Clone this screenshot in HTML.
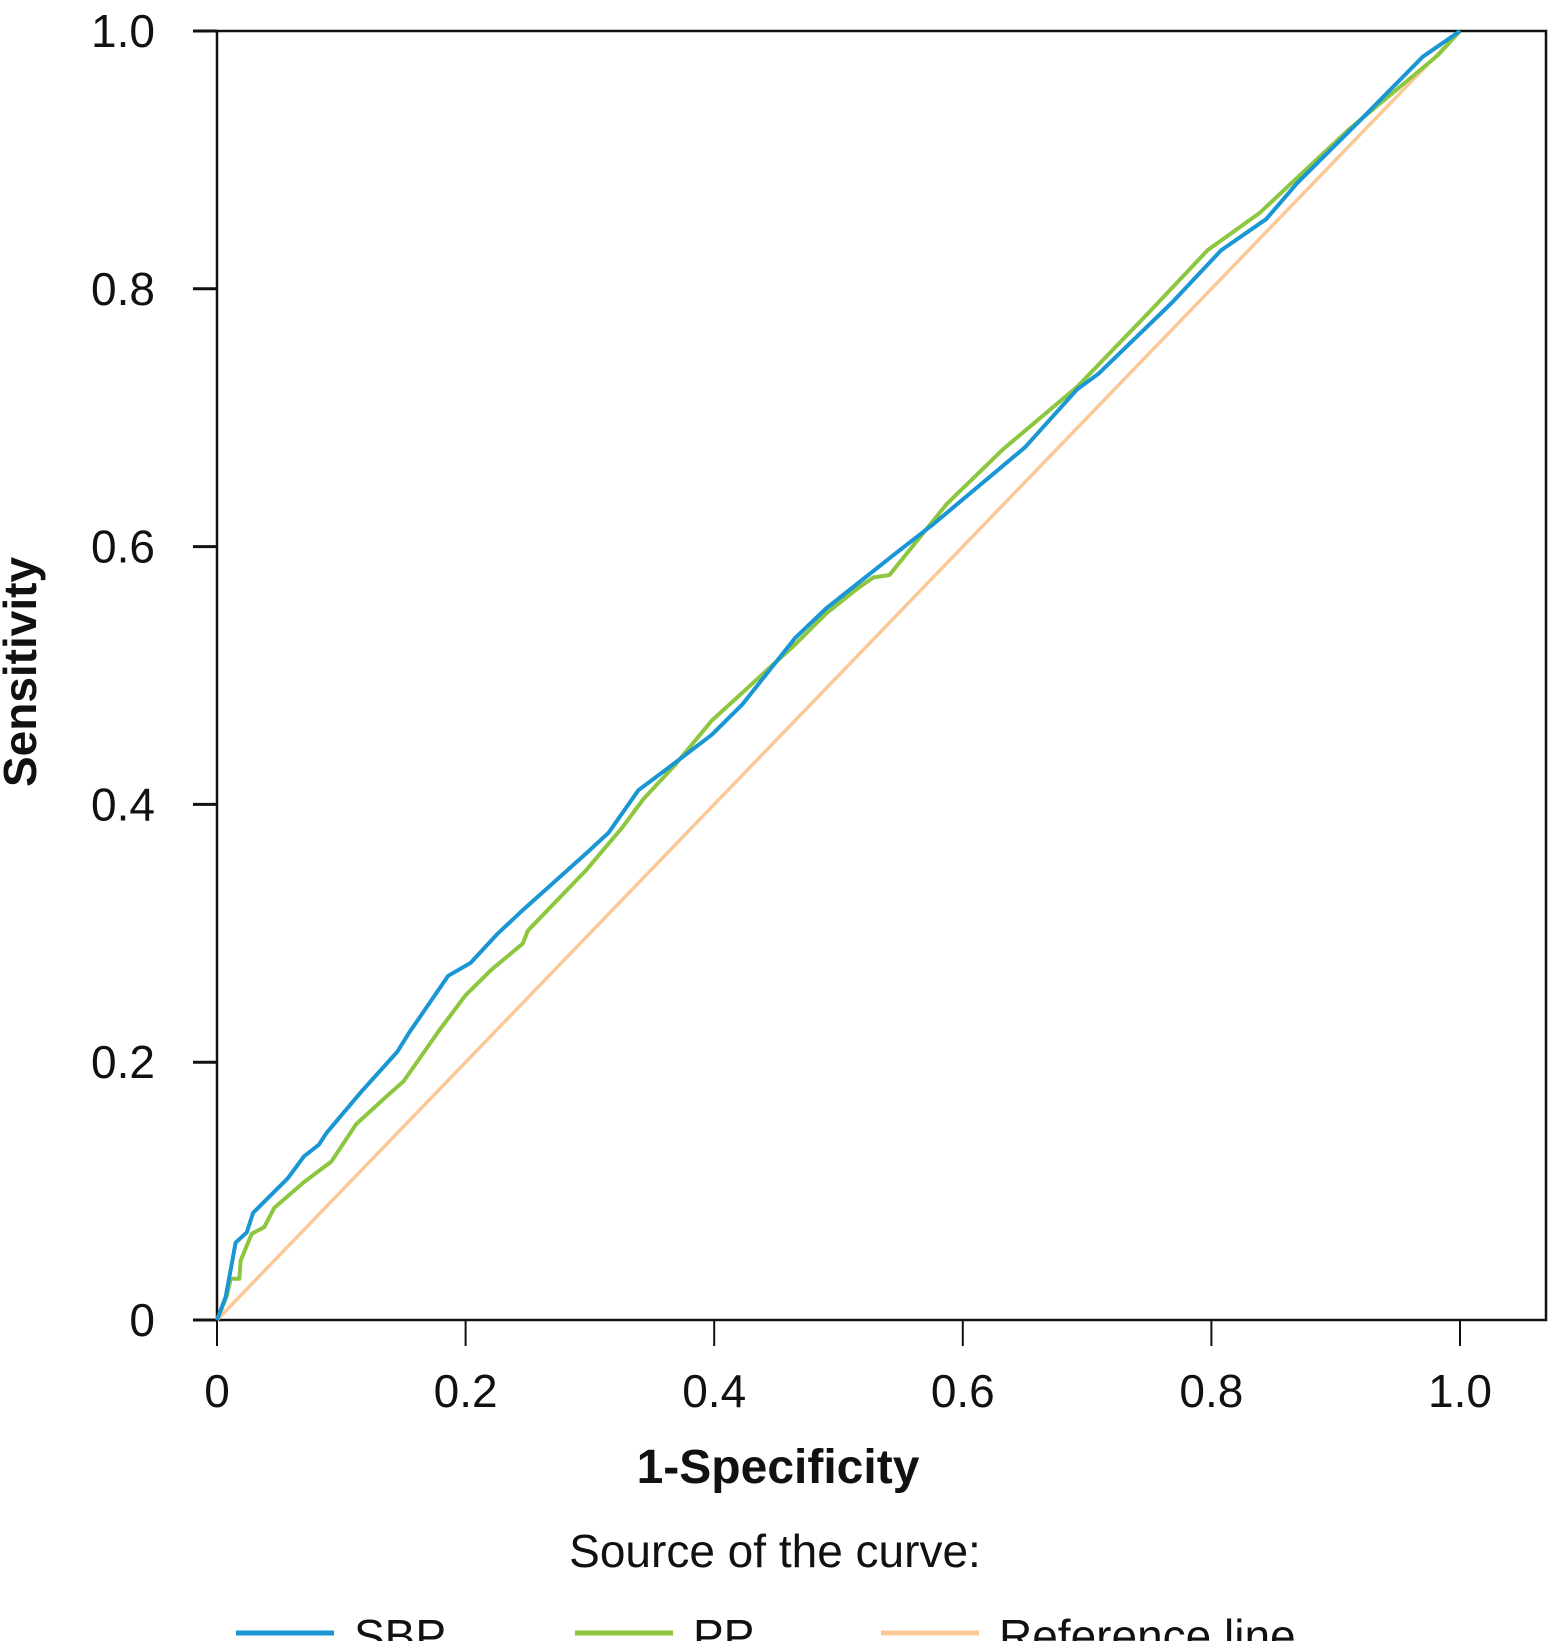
<!DOCTYPE html>
<html><head><meta charset="utf-8"><style>
html,body{margin:0;padding:0;background:#fff;}
svg text{font-family:"Liberation Sans Narrow","Liberation Sans",sans-serif;fill:#111;}
</style></head><body>
<svg id="chart" width="1550" height="1641" viewBox="0 0 1550 1641" xmlns="http://www.w3.org/2000/svg">
<g id="plot"></g>
</svg>
<script>
const ticks = [0, 0.2, 0.4, 0.6, 0.8, 1.0];
const tickLabels = ["0", "0.2", "0.4", "0.6", "0.8", "1.0"];
const sbpX = [0,0.007,0.015,0.024,0.029,0.057,0.070,0.082,0.088,0.116,0.145,0.154,0.186,0.204,0.225,0.246,0.297,0.315,0.339,0.364,0.398,0.423,0.465,0.490,0.541,0.577,0.650,0.692,0.709,0.768,0.808,0.844,0.869,0.920,0.970,1];
const sbpY = [0,0.018,0.060,0.068,0.083,0.110,0.127,0.136,0.145,0.177,0.208,0.222,0.267,0.277,0.299,0.318,0.362,0.378,0.411,0.429,0.454,0.478,0.529,0.552,0.591,0.618,0.677,0.722,0.734,0.789,0.830,0.854,0.882,0.931,0.980,1];
const ppX = [0,0.008,0.011,0.018,0.019,0.028,0.038,0.046,0.070,0.092,0.112,0.137,0.150,0.179,0.200,0.221,0.246,0.250,0.297,0.326,0.343,0.368,0.398,0.423,0.465,0.490,0.516,0.528,0.541,0.587,0.633,0.692,0.751,0.797,0.839,0.911,0.982,1];
const ppY = [0,0.019,0.032,0.032,0.046,0.067,0.072,0.087,0.107,0.123,0.152,0.174,0.185,0.225,0.252,0.272,0.292,0.302,0.349,0.382,0.404,0.430,0.465,0.487,0.524,0.548,0.568,0.576,0.578,0.633,0.676,0.724,0.783,0.830,0.859,0.924,0.981,1];
const refX = [0, 1];
const refY = [0, 1];

const NS = "http://www.w3.org/2000/svg";
const X0 = 217, X1 = 1460, Y0 = 1320, Y1 = 31, RIGHT = 1546;
function sx(v){ return X0 + v * (X1 - X0); }
function sy(v){ return Y0 - v * (Y0 - Y1); }
const g = document.getElementById('plot');
function mk(tag, attrs, parent){
  const e = document.createElementNS(NS, tag);
  for (const k in attrs) e.setAttribute(k, attrs[k]);
  (parent || g).appendChild(e);
  return e;
}
const frame = mk('rect', {x: X0, y: Y1, width: RIGHT - X0, height: Y0 - Y1, fill: 'none', stroke: '#111', 'stroke-width': 2.5});


ticks.forEach((t, i) => {
  const yt = mk('line', {x1: 193, x2: X0, y1: sy(t), y2: sy(t), stroke: '#111', 'stroke-width': 3});
  
  
  const yl = mk('text', {x: 155, y: sy(t) + 16, 'text-anchor': 'end', 'font-size': 46});
  yl.textContent = tickLabels[i];
  
  
  const xt = mk('line', {x1: sx(t), x2: sx(t), y1: Y0, y2: 1346, stroke: '#111', 'stroke-width': 2});
  
  
  const xl = mk('text', {x: sx(t), y: 1407, 'text-anchor': 'middle', 'font-size': 46});
  xl.textContent = tickLabels[i];
  
  
});
function series(xs, ys, color, w, name){
  const d = xs.map((x, i) => (i ? 'L' : 'M') + sx(x).toFixed(1) + ',' + sy(ys[i]).toFixed(1)).join(' ');
  const p = mk('path', {d: d, fill: 'none', stroke: color, 'stroke-width': w, 'stroke-linejoin': 'round'});
  
  
}
series(refX, refY, '#fbc995', 3.5, 'reference-line');
series(ppX, ppY, '#8dc63f', 4, 'pp-curve');
series(sbpX, sbpY, '#1a96d4', 4, 'sbp-curve');
</script>
<svg width="1550" height="1641" style="position:absolute;left:0;top:0" xmlns="http://www.w3.org/2000/svg">
<text x="24" y="672" transform="rotate(-90 24 672)" text-anchor="middle" font-size="46" font-weight="bold" dominant-baseline="middle">Sensitivity</text>
<text x="778" y="1483" text-anchor="middle" font-size="48" font-weight="bold">1-Specificity</text>
<text x="775" y="1567" text-anchor="middle" font-size="46">Source of the curve:</text>
<g>
<line x1="236" x2="334" y1="1633" y2="1633" stroke="#1a96d4" stroke-width="5"/>
<text x="354" y="1652" font-size="46">SBP</text></g>
<g>
<line x1="575" x2="673" y1="1633" y2="1633" stroke="#8dc63f" stroke-width="5"/>
<text x="693" y="1652" font-size="46">PP</text></g>
<g>
<line x1="881" x2="979" y1="1633" y2="1633" stroke="#fbc995" stroke-width="5"/>
<text x="999" y="1652" font-size="46">Reference line</text></g>
</svg>
</body></html>
